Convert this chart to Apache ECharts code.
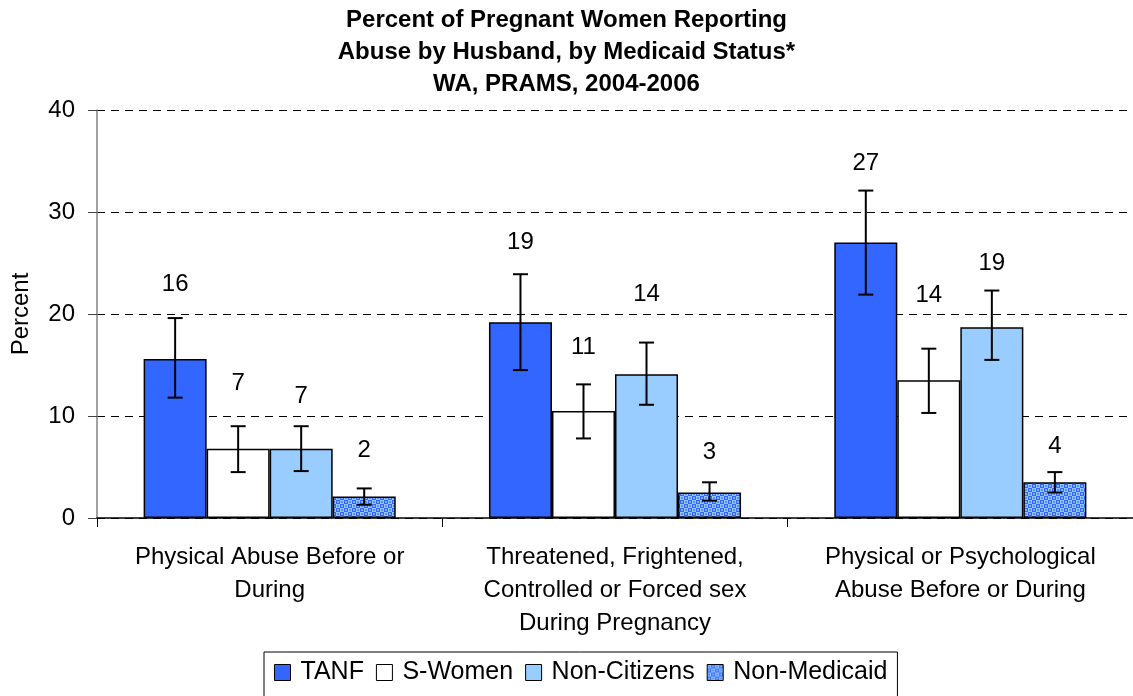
<!DOCTYPE html>
<html>
<head>
<meta charset="utf-8">
<script src="https://cdn.jsdelivr.net/npm/echarts@6/dist/echarts.min.js"></script>
<style>
html,body{margin:0;padding:0;background:#fff;}
#chart{width:1133px;height:696px;}
</style>
</head>
<body>
<div id="chart"></div>
<script>
const categories = [
  'Physical Abuse Before or\nDuring',
  'Threatened, Frightened,\nControlled or Forced sex\nDuring Pregnancy',
  'Physical or Psychological\nAbuse Before or During'
];
const seriesNames = ['TANF', 'S-Women', 'Non-Citizens', 'Non-Medicaid'];
const tanf = [15.6, 19.2, 27.0];
const sWomen = [6.8, 10.5, 13.5];
const nonCitizens = [6.8, 14.1, 18.7];
const nonMedicaid = [2.1, 2.5, 3.5];
const tanfCI = [[11.8, 19.6], [14.5, 23.9], [21.9, 32.1]];
const sWomenCI = [[4.5, 9.0], [7.8, 13.1], [10.3, 16.6]];
const nonCitizensCI = [[4.6, 9.0], [11.1, 17.2], [15.5, 22.3]];
const nonMedicaidCI = [[1.3, 2.9], [1.7, 3.5], [2.5, 4.5]];
const labelTexts = [['16', '19', '27'], ['7', '11', '14'], ['7', '14', '19'], ['2', '3', '4']];
const labelY = [[22.9, 27.0, 34.8], [13.2, 16.7, 21.8], [11.9, 21.9, 25.0], [6.6, 6.4, 7.0]];
const yTicks = [0, 10, 20, 30, 40];

const values = [tanf, sWomen, nonCitizens, nonMedicaid];
const cis = [tanfCI, sWomenCI, nonCitizensCI, nonMedicaidCI];

// pattern for Non-Medicaid
const pc = document.createElement('canvas');
pc.width = 8; pc.height = 8;
const g = pc.getContext('2d');
g.fillStyle = '#3366ff'; g.fillRect(0, 0, 8, 8);
g.fillStyle = '#99ccff';
g.fillRect(0, 0, 4, 4); g.fillRect(4, 4, 4, 4);
g.fillStyle = '#5a8cff';
g.beginPath(); g.arc(2, 2, 1.3, 0, Math.PI * 2); g.fill();
g.beginPath(); g.arc(6, 6, 1.3, 0, Math.PI * 2); g.fill();
g.fillStyle = '#99ccff';
g.beginPath(); g.arc(6, 2, 1.0, 0, Math.PI * 2); g.fill();
g.beginPath(); g.arc(2, 6, 1.0, 0, Math.PI * 2); g.fill();

const fills = ['#3366ff', '#ffffff', '#99ccff', { image: pc, repeat: 'repeat' }];
const GAP = 0.27;
const FONT = 'Liberation Sans, Arial, sans-serif';
const FS = 24;

const barSeries = seriesNames.map((n, i) => ({
  name: n,
  type: 'bar',
  data: values[i],
  barGap: '0%',
  barCategoryGap: (GAP * 100) + '%',
  itemStyle: { color: fills[i], borderColor: '#000', borderWidth: 1.5 },
  z: 2
}));

function offsetFor(api, i) {
  const band = api.size([1, 0])[0];
  const bw = band * (1 - GAP) / 4;
  return (i - 1.5) * bw;
}

const errSeries = seriesNames.map((n, i) => ({
  name: n + ' err',
  type: 'custom',
  data: cis[i].map((c, k) => [k, c[0], c[1]]),
  z: 5,
  silent: true,
  renderItem: function (params, api) {
    const k = api.value(0);
    const lo = api.coord([k, api.value(1)]);
    const hi = api.coord([k, api.value(2)]);
    const x = lo[0] + offsetFor(api, i);
    const cw = 7.5;
    const st = { stroke: '#000', lineWidth: 2 };
    return {
      type: 'group',
      children: [
        { type: 'line', shape: { x1: x, y1: lo[1], x2: x, y2: hi[1] }, style: st },
        { type: 'line', shape: { x1: x - cw, y1: lo[1], x2: x + cw, y2: lo[1] }, style: st },
        { type: 'line', shape: { x1: x - cw, y1: hi[1], x2: x + cw, y2: hi[1] }, style: st }
      ]
    };
  }
}));

const labelSeries = seriesNames.map((n, i) => ({
  name: n + ' lbl',
  type: 'custom',
  data: labelY[i].map((y, k) => [k, y, labelTexts[i][k]]),
  z: 6,
  silent: true,
  renderItem: function (params, api) {
    const k = api.value(0);
    const p = api.coord([k, api.value(1)]);
    return {
      type: 'text',
      style: {
        x: p[0] + offsetFor(api, i), y: p[1],
        text: labelTexts[i][k],
        align: 'center', verticalAlign: 'middle',
        fontFamily: FONT, fontSize: FS, fill: '#000'
      }
    };
  }
}));

const chart = echarts.init(document.getElementById('chart'), null, { renderer: 'canvas' });
chart.setOption({
  animation: false,
  backgroundColor: '#fff',
  title: {
    text: 'Percent of Pregnant Women Reporting\nAbuse by Husband, by Medicaid Status*\nWA, PRAMS, 2004-2006',
    left: 'center',
    top: 4,
    padding: 0,
    textStyle: { fontFamily: FONT, fontWeight: 'bold', fontSize: 24, lineHeight: 32, color: '#000' }
  },
  legend: {
    data: seriesNames,
    top: 652,
    left: 264,
    orient: 'horizontal',
    itemWidth: 16,
    itemHeight: 16,
    itemGap: 12,
    padding: [8, 10, 24, 10],
    borderColor: '#000',
    borderWidth: 1,
    icon: 'rect',
    textStyle: { fontFamily: FONT, fontSize: 25, color: '#000', padding: [0, 0, 0, 5] },
    itemStyle: { borderColor: '#000', borderWidth: 1 }
  },
  grid: { left: 97, right: 0, top: 110, bottom: 178, containLabel: false },
  xAxis: {
    type: 'category',
    data: categories,
    axisLine: { lineStyle: { color: '#000', width: 1.5 } },
    axisTick: { show: true, length: 9, lineStyle: { color: '#000' } },
    axisLabel: { fontFamily: FONT, fontSize: FS, color: '#000', lineHeight: 33, margin: 22.5, interval: 0 },
    splitLine: { show: false }
  },
  yAxis: {
    type: 'value',
    min: 0, max: 40, interval: 10,
    name: 'Percent',
    nameLocation: 'middle',
    nameGap: 64,
    nameRotate: 90,
    nameTextStyle: { fontFamily: FONT, fontSize: FS, color: '#000' },
    axisLine: { show: true, lineStyle: { color: '#808080', width: 1.5 } },
    axisTick: { show: true, length: 9, lineStyle: { color: '#404040' } },
    axisLabel: {
      fontFamily: FONT, fontSize: FS, color: '#000', margin: 22,
      formatter: v => (yTicks.indexOf(v) >= 0 ? String(v) : '')
    },
    splitLine: { show: true, lineStyle: { color: '#000', type: [8, 6], width: 1 } }
  },
  series: [...barSeries, ...errSeries, ...labelSeries]
});
</script>
</body>
</html>
